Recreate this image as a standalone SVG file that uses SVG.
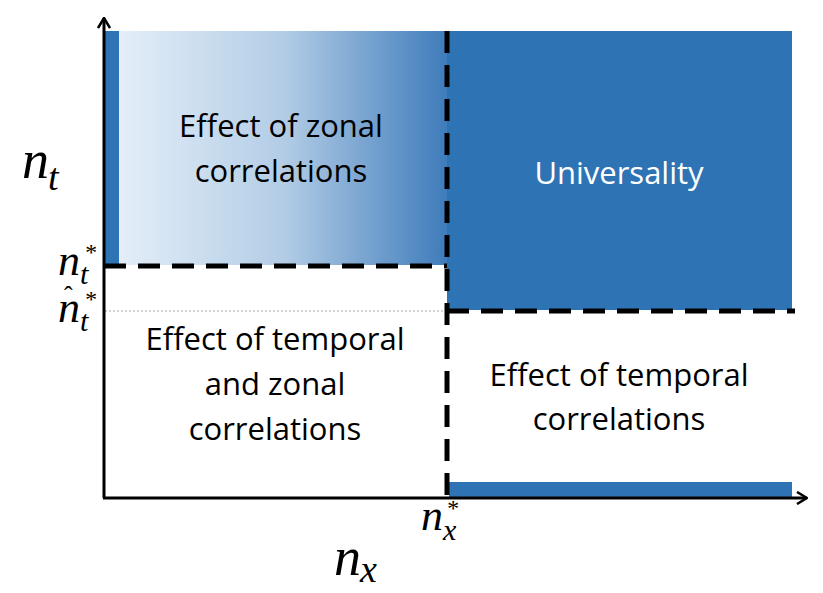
<svg xmlns="http://www.w3.org/2000/svg" width="823" height="593" viewBox="0 0 823 593">
<defs>
<linearGradient id="g" x1="0" x2="1" y1="0" y2="0">
<stop offset="0" stop-color="#e4eef8"/><stop offset="0.5" stop-color="#b3cde6"/><stop offset="1" stop-color="#3f7cbb"/>
</linearGradient>
<marker id="arr" viewBox="0 0 12 14" refX="11" refY="7" markerWidth="12" markerHeight="14" markerUnits="userSpaceOnUse" orient="auto">
<path d="M1,1 L11,7 L1,13" fill="none" stroke="#000" stroke-width="2.5"/>
</marker>
<style>
.t{font-family:"Open Sans","Liberation Sans",sans-serif;font-size:31px;text-anchor:middle;fill:#000}
.m{font-family:"Liberation Serif",serif;font-style:italic;fill:#000}
.d{stroke:#000;stroke-width:5;stroke-dasharray:22,12;fill:none}
</style>
</defs>
<g id="regions">
<rect x="105" y="31" width="14" height="234" fill="#2e74b5"/>
<rect x="119" y="31" width="328" height="234" fill="url(#g)"/>
<rect x="447" y="31" width="345" height="279" fill="#2e74b5"/>
<rect x="449" y="482" width="343" height="15" fill="#2e74b5"/>
<line x1="105" y1="311" x2="447" y2="311" stroke="#aaa" stroke-width="1" stroke-dasharray="2,2"/>
</g>
<g id="connectors">
<line x1="104" y1="498" x2="104" y2="18" stroke="#000" stroke-width="3" marker-end="url(#arr)"/>
<line x1="103" y1="498" x2="807" y2="498" stroke="#000" stroke-width="3" marker-end="url(#arr)"/>
<line class="d" x1="104" y1="266" x2="447" y2="266"/>
<line class="d" x1="447" y1="31" x2="447" y2="498"/>
<line class="d" x1="447" y1="311" x2="795" y2="311"/>
</g>
<g id="labels">
<text class="t" x="281" y="137">Effect of zonal</text>
<text class="t" x="281" y="182">correlations</text>
<text class="t" x="619" y="184" style="fill:#fff">Universality</text>
<text class="t" x="275" y="350">Effect of temporal</text>
<text class="t" x="275" y="395">and zonal</text>
<text class="t" x="275" y="440">correlations</text>
<text class="t" x="619" y="386">Effect of temporal</text>
<text class="t" x="619" y="430">correlations</text>
<text class="m" x="22" y="178" font-size="54">n</text>
<text class="m" x="48" y="190" font-size="38">t</text>
<text class="m" x="58" y="275" font-size="44">n</text>
<text class="m" x="80" y="284" font-size="30">t</text>
<text class="m" x="84" y="260" font-size="24">*</text>
<text class="m" x="58" y="322" font-size="44">n</text>
<text class="m" x="80" y="331" font-size="30">t</text>
<text class="m" x="84" y="307" font-size="24">*</text>
<text x="64" y="304" font-family="Liberation Serif,serif" font-size="26">ˆ</text>
<text class="m" x="421" y="530" font-size="44">n</text>
<text class="m" x="443" y="540" font-size="30">x</text>
<text class="m" x="446" y="516" font-size="24">*</text>
<text class="m" x="334" y="575" font-size="54">n</text>
<text class="m" x="360" y="582" font-size="38">x</text>
</g>
</svg>
